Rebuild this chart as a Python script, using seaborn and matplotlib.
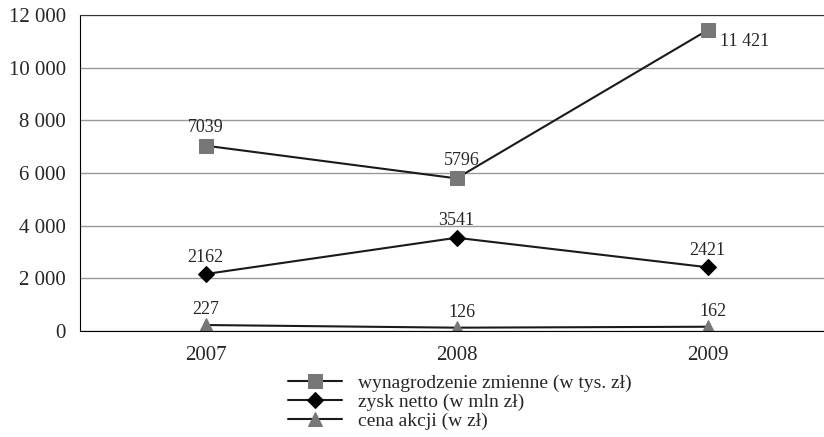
import seaborn as sns
import matplotlib.pyplot as plt
import pandas as pd

years = ["2007", "2008", "2009"]
wynagrodzenie = [7039, 5796, 11421]
zysk = [2162, 3541, 2421]
cena = [227, 126, 162]
labels_wyn = ["7039", "5796", "11 421"]
labels_zysk = ["2162", "3541", "2421"]
labels_cena = ["227", "126", "162"]
series_names = ["wynagrodzenie zmienne (w tys. zł)", "zysk netto (w mln zł)", "cena akcji (w zł)"]
yticks = [0, 2000, 4000, 6000, 8000, 10000, 12000]
ytick_labels = ["0", "2 000", "4 000", "6 000", "8 000", "10 000", "12 000"]

sns.set_style("white")
plt.rcParams["font.family"] = ["Liberation Serif", "DejaVu Serif"]

df = pd.DataFrame({
    "rok": years * 3,
    "wartosc": wynagrodzenie + zysk + cena,
    "seria": [series_names[0]] * 3 + [series_names[1]] * 3 + [series_names[2]] * 3,
})

fig = plt.figure(figsize=(8.24, 4.37), dpi=100)
ax = fig.add_axes([80 / 824, 1 - 331 / 437, 753 / 824, 316 / 437])

styles = {
    series_names[0]: ("s", "#777777", 10),
    series_names[1]: ("D", "black", 8),
    series_names[2]: ("^", "#777777", 10),
}
for name in series_names:
    m, c, s = styles[name]
    sub = df[df["seria"] == name]
    sns.lineplot(data=sub, x="rok", y="wartosc", ax=ax, color="#1a1a1a", lw=1.5,
                 marker=m, markersize=s, markerfacecolor=c, markeredgecolor=c,
                 label=name, sort=False)

fs = 13
xs = [0, 1, 2]
for i in xs:
    if i == 2:
        ax.annotate(labels_wyn[i], (i, wynagrodzenie[i]), xytext=(9, -8),
                    textcoords="offset points", ha="left", va="center", fontsize=fs)
    else:
        ax.annotate(labels_wyn[i], (i, wynagrodzenie[i]), xytext=(4 * i, 7),
                    textcoords="offset points", ha="center", va="bottom", fontsize=fs)
    ax.annotate(labels_zysk[i], (i, zysk[i]), xytext=(0, 6), textcoords="offset points",
                ha="center", va="bottom", fontsize=fs)
    ax.annotate(labels_cena[i], (i, cena[i]), xytext=(4 if i else 0, 5), textcoords="offset points",
                ha="center", va="bottom", fontsize=fs)

ax.set_xlim(-0.5, 2.5)
ax.set_ylim(0, 12000)
ax.set_yticks(yticks)
ax.set_yticklabels(ytick_labels)
ax.yaxis.grid(True, color="#999999", lw=1)
ax.set_axisbelow(True)
ax.set_xlabel("")
ax.set_ylabel("")
ax.tick_params(axis="y", labelsize=15, length=0, pad=10)
ax.tick_params(axis="x", labelsize=15, length=0, pad=11)
ax.spines["right"].set_visible(False)
ax.spines["top"].set_color("#333333")
ax.spines["left"].set_color("black")
ax.spines["bottom"].set_color("black")

ax.legend(loc="upper left", bbox_to_anchor=(288 / 824, 1 - 374 / 437),
          bbox_transform=fig.transFigure, frameon=False, fontsize=14,
          handlelength=2.8, labelspacing=0.08, borderpad=0, handletextpad=0.8,
          borderaxespad=0)

fig.savefig("out.png", dpi=100)
